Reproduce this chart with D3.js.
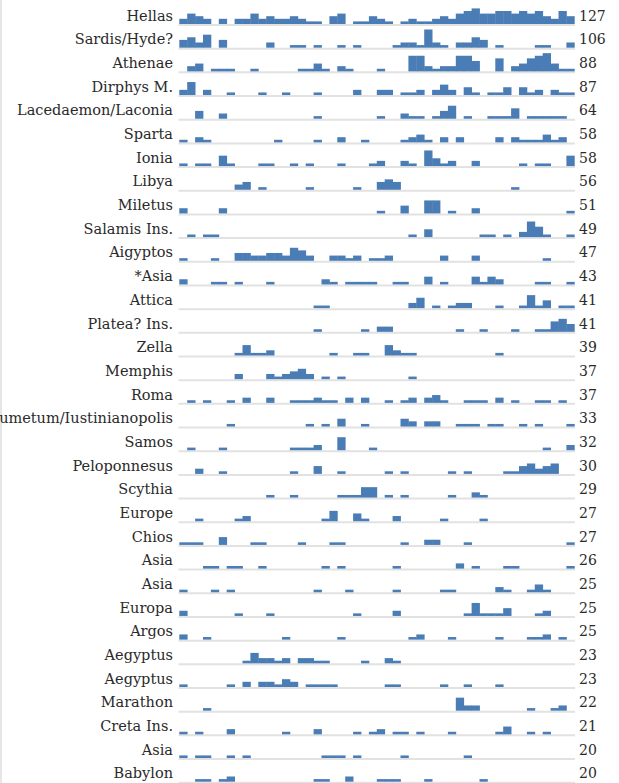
<!DOCTYPE html>
<html>
<head>
<meta charset="utf-8">
<script src="https://cdn.jsdelivr.net/npm/d3@7"></script>
<style>
  html, body { margin: 0; padding: 0; background: #fff; }
  svg { display: block; }
</style>
</head>
<body>
<script>
const places = ["Hellas","Sardis/Hyde?","Athenae","Dirphys M.","Lacedaemon/Laconia","Sparta","Ionia","Libya","Miletus","Salamis Ins.","Aigyptos","*Asia","Attica","Platea? Ins.","Zella","Memphis","Roma","Hadrumetum/Iustinianopolis","Samos","Peloponnesus","Scythia","Europe","Chios","Asia","Asia","Europa","Argos","Aegyptus","Aegyptus","Marathon","Creta Ins.","Asia","Babylon"];

const totals = [127,106,88,87,64,58,58,56,51,49,47,43,41,41,39,37,37,33,32,30,29,27,27,26,25,25,25,23,23,22,21,20,20];

// counts per time bin (50 bins) for each place, same order as `places`
const binCounts = [
  [2,4,3,2,0,2,0,2,2,4, 2,3,2,2,3,2,1,1,0,3, 4,0,1,1,3,2,1,0,1,2, 1,1,2,3,2,4,5,6,4,4, 5,5,4,5,4,5,3,2,5,3],
  [3,4,2,5,0,3,0,0,0,0, 0,2,0,0,1,1,0,1,0,0, 1,0,1,0,0,0,0,1,2,2, 1,7,2,1,0,2,2,4,3,0, 1,0,0,0,0,1,1,0,0,2],
  [0,2,3,0,1,1,1,0,0,1, 0,0,0,0,0,1,1,3,1,0, 2,1,0,0,0,1,0,0,0,6, 6,2,1,2,2,6,6,4,0,0, 5,0,2,3,5,6,7,3,1,1],
  [2,5,0,2,0,0,1,0,0,0, 1,0,0,1,0,0,0,1,0,0, 0,0,2,0,0,2,2,0,1,1, 2,0,2,4,2,0,3,1,0,1, 1,3,0,3,1,2,0,2,1,1],
  [0,0,3,0,0,2,0,0,0,0, 0,0,0,0,0,0,0,1,0,0, 0,0,0,0,0,1,0,0,2,1, 1,0,1,3,5,0,1,0,0,1, 1,1,4,0,1,1,1,1,1,0],
  [1,0,2,1,0,0,0,0,0,0, 0,0,1,0,0,0,0,1,0,0, 2,0,0,1,0,0,0,0,1,2, 3,1,0,2,0,2,0,0,0,0, 2,0,2,1,1,1,3,1,2,0],
  [1,0,1,1,0,4,1,0,0,0, 1,1,0,0,1,0,1,0,0,0, 1,0,0,0,1,2,0,0,2,1, 0,6,3,1,2,0,0,2,0,0, 0,0,0,1,0,1,1,0,0,4],
  [0,0,0,0,0,0,0,2,3,0, 1,0,0,0,0,0,1,0,0,0, 0,0,1,0,0,3,4,3,0,0, 0,0,0,0,0,0,0,0,0,0, 0,0,1,0,0,0,0,0,0,0],
  [2,0,0,0,0,2,0,0,0,0, 0,0,0,0,0,0,0,0,0,0, 0,0,0,0,0,1,0,0,3,0, 0,5,5,0,1,0,0,2,0,0, 0,0,0,0,0,0,0,0,0,1],
  [0,1,0,1,1,0,0,0,0,0, 0,0,0,0,0,0,0,0,0,0, 0,0,0,0,0,0,0,0,0,1, 0,3,0,0,0,0,0,0,1,1, 0,1,0,2,6,4,1,0,0,1],
  [1,0,0,0,1,0,0,3,3,2, 2,3,3,2,5,4,2,0,0,2, 2,1,2,0,1,1,2,0,0,0, 0,0,0,2,0,0,0,2,0,0, 0,0,0,0,0,0,1,0,0,0],
  [2,0,0,0,1,1,0,1,0,0, 0,1,0,0,0,0,0,0,2,1, 0,1,1,1,1,0,0,1,1,0, 0,3,0,1,0,0,0,3,1,3, 2,0,0,0,0,1,1,0,0,1],
  [0,0,0,0,0,0,0,0,0,0, 0,0,0,0,0,0,0,1,1,0, 0,0,0,0,0,0,0,0,0,2, 4,0,1,0,1,2,2,0,0,0, 1,0,0,1,5,1,3,0,1,1],
  [0,0,0,0,0,0,0,0,0,0, 0,0,0,0,0,0,0,1,0,0, 0,0,0,1,0,2,2,0,0,0, 0,0,0,0,0,1,0,0,1,0, 0,0,1,0,0,1,1,4,5,3],
  [0,0,0,0,0,0,0,1,4,1, 1,2,0,0,0,0,0,0,0,1, 0,0,1,1,0,0,4,2,1,1, 0,0,0,0,0,0,0,0,0,0, 1,0,0,0,0,0,0,0,0,0],
  [0,0,0,0,0,0,0,2,0,0, 0,2,1,2,3,4,2,0,1,0, 1,0,0,0,0,0,0,0,0,1, 0,0,0,0,0,0,0,0,0,0, 0,0,0,0,0,0,0,0,0,0],
  [0,1,0,1,0,0,1,0,2,0, 0,2,0,0,1,1,1,2,1,1, 0,2,0,2,0,0,1,0,1,2, 0,2,3,1,0,0,1,1,1,0, 2,0,1,0,0,1,1,0,1,0],
  [0,0,0,0,0,0,1,0,0,0, 0,0,0,0,0,0,1,0,1,0, 3,0,0,1,0,0,0,0,3,2, 0,2,2,0,0,1,1,1,0,1, 1,0,0,1,0,1,0,0,0,1],
  [0,1,0,0,0,1,0,0,0,0, 0,0,0,0,1,1,1,2,0,0, 5,0,0,0,1,0,0,0,0,0, 0,0,0,0,0,0,0,0,0,0, 0,0,0,0,0,0,1,0,0,2],
  [0,0,2,0,0,1,0,0,0,0, 0,0,0,0,1,0,0,3,0,0, 1,0,0,0,0,0,1,0,1,0, 0,0,0,0,1,0,1,0,0,0, 0,1,1,3,4,2,3,4,0,0],
  [0,0,0,0,0,0,0,0,0,0, 0,1,0,0,1,0,0,0,0,0, 1,1,1,4,4,0,1,0,1,0, 0,0,0,0,1,0,0,2,1,0, 0,0,0,0,0,0,0,0,0,0],
  [0,0,1,0,0,0,0,1,2,0, 0,0,0,0,0,0,0,0,1,4, 0,0,3,1,0,0,0,2,0,0, 0,0,0,1,0,0,0,0,1,0, 0,0,0,0,0,0,0,0,0,0],
  [1,1,1,0,0,3,0,0,0,1, 1,0,0,0,0,1,0,0,0,1, 1,0,0,0,0,0,0,0,1,0, 0,2,2,0,0,0,1,0,0,0, 0,0,0,0,0,0,0,0,0,1],
  [0,0,0,1,1,0,1,1,0,0, 1,0,0,0,0,0,0,0,1,0, 1,0,0,0,0,0,0,1,0,0, 0,0,0,0,0,2,0,1,0,0, 0,1,1,0,0,0,0,0,0,1],
  [1,0,0,0,1,0,1,0,0,0, 0,0,0,0,0,0,0,1,0,0, 0,1,0,0,0,0,0,1,0,0, 0,0,0,1,1,0,0,0,0,0, 2,1,0,0,1,3,1,0,0,0],
  [2,0,0,0,0,0,0,1,0,0, 0,1,0,0,0,0,0,0,0,0, 0,0,1,0,0,0,0,2,0,0, 0,0,0,0,0,0,1,5,1,1, 1,3,0,0,0,1,2,0,0,0],
  [2,0,0,1,0,0,0,0,0,0, 0,0,0,1,0,0,0,0,0,0, 1,0,0,0,0,0,0,0,0,1, 2,0,0,0,1,0,0,0,0,0, 1,0,0,0,1,1,2,0,1,0],
  [0,0,0,0,0,0,0,0,1,4, 2,2,1,2,0,2,2,1,1,0, 0,0,0,1,0,0,2,1,0,0, 0,0,0,0,0,0,0,0,0,0, 0,0,0,0,0,0,0,0,0,0],
  [1,0,0,0,0,0,1,0,2,0, 2,2,1,3,2,0,1,1,1,1, 0,0,0,0,0,0,1,1,0,0, 0,0,0,1,0,0,1,0,0,0, 1,0,0,0,0,0,0,0,0,0],
  [0,0,0,1,0,0,0,0,0,0, 0,0,0,0,0,0,0,0,0,0, 0,0,0,0,0,0,0,0,0,0, 0,0,0,0,0,5,2,2,0,0, 0,0,0,0,1,0,0,1,2,0],
  [1,0,1,0,0,0,2,0,0,0, 0,0,0,1,0,0,0,2,0,0, 0,0,1,0,1,2,0,1,1,0, 1,0,0,0,1,0,0,0,0,0, 1,3,0,0,1,0,1,0,0,0],
  [1,0,1,1,0,0,1,0,1,0, 0,0,0,0,0,0,0,0,1,1, 1,0,1,0,0,0,0,0,1,0, 0,0,0,0,0,0,1,0,0,0, 0,0,0,0,0,0,0,0,0,0],
  [0,0,1,1,0,1,2,0,0,0, 0,0,0,0,0,0,0,1,1,0, 0,2,0,0,0,1,1,1,0,0, 0,1,0,0,0,0,0,0,1,0, 0,0,0,0,0,0,0,0,0,0]
];

const W = 619, H = 783;
const svg = d3.select("body").append("svg").attr("width", W).attr("height", H);

const nBins = binCounts[0].length;
const x = d3.scaleBand().domain(d3.range(nBins)).range([179.3, 574.3]).padding(0);
const row = d3.scaleLinear().domain([0, places.length - 1]).range([24, 781.7]);
const h = d3.scaleLinear().domain([0, 7]).range([0, 18.2]);

// faint page edge
svg.append("line").attr("x1", 1).attr("x2", 1).attr("y1", 0).attr("y2", H)
  .attr("stroke", "#dedede").attr("stroke-width", 1.5);

const rows = svg.selectAll("g.row").data(places).join("g")
  .attr("class", "row")
  .attr("transform", (d, i) => `translate(0,${row(i)})`);

rows.append("line")
  .attr("x1", 178.5).attr("x2", 575)
  .attr("y1", 1).attr("y2", 1)
  .attr("stroke", "#e2e2e2").attr("stroke-width", 2);

rows.selectAll("rect")
  .data((d, i) => binCounts[i].map((v, j) => ({ v, j })).filter(e => e.v > 0))
  .join("rect")
  .attr("x", e => x(e.j))
  .attr("width", x.bandwidth() + 0.4)
  .attr("y", e => -h(e.v))
  .attr("height", e => h(e.v))
  .attr("fill", "#4a7db5");

rows.append("text")
  .attr("x", 173).attr("y", -3.3)
  .attr("text-anchor", "end")
  .attr("font-family", "'DejaVu Serif', serif")
  .attr("font-size", 14.5)
  .attr("fill", "#2a2a2a")
  .text(d => d);

rows.append("text")
  .attr("x", 579).attr("y", -3.3)
  .attr("font-family", "'DejaVu Serif', serif")
  .attr("font-size", 14)
  .attr("fill", "#2a2a2a")
  .text((d, i) => totals[i]);
</script>
</body>
</html>
